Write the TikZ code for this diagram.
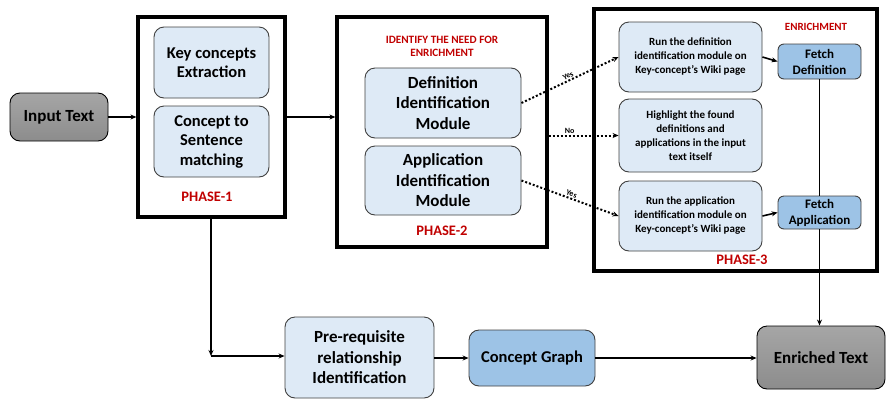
\documentclass[tikz,border=0pt]{standalone}
\usepackage{fontspec}
\setmainfont{Carlito}
\usetikzlibrary{arrows.meta,calc}
\definecolor{lightbox}{HTML}{DEEAF6}
\definecolor{midbox}{HTML}{9DC3E6}
\definecolor{boxline}{HTML}{404040}
\definecolor{phasered}{HTML}{C00000}
\tikzset{
  every node/.style={font=\bfseries},
  lbox/.style={draw=boxline, line width=0.9pt, fill=lightbox, rounded corners=10pt, align=center, inner sep=2pt},
  mbox/.style={draw=boxline, line width=0.9pt, fill=midbox, rounded corners=6pt, align=center, inner sep=2pt},
  gbox/.style={draw=black, line width=0.9pt, rounded corners=10pt, top color=gray!70, bottom color=gray!110!black, shading angle=0, align=center, inner sep=2pt},
  frame/.style={draw=black, line width=3.2pt},
  redlab/.style={text=phasered, align=center, inner sep=0pt},
  conn/.style={line width=1.6pt, -{Stealth[length=6pt,width=5pt]}},
  dconn/.style={line width=2pt, dash pattern=on 2pt off 2pt, -{Stealth[length=6pt,width=5pt]}},
  tiny/.style={font=\bfseries\fontsize{8}{9}\selectfont, inner sep=1pt},
  bigtxt/.style={font=\bfseries\fontsize{17}{20.5}\selectfont},
  medtxt/.style={font=\bfseries\fontsize{16.5}{19.5}\selectfont},
  smalltxt/.style={font=\bfseries\fontsize{11}{14}\selectfont},
  fetchtxt/.style={font=\bfseries\fontsize{13}{16}\selectfont}
}
\begin{document}
\begin{tikzpicture}[x=1pt,y=-1pt]
\useasboundingbox (0,0) rectangle (888,413);
% frames
\node[frame, minimum width=147pt, minimum height=200pt] (p1) at (211.5,117) {};
\node[frame, minimum width=210pt, minimum height=230pt] (p2) at (442,132) {};
\node[frame, minimum width=283pt, minimum height=262pt] (p3) at (735.5,140) {};
% input
\node[gbox, font=\bfseries\fontsize{17}{20}\selectfont, minimum width=98pt, minimum height=48pt] (input) at (59,117) {Input Text};
% phase 1
\node[lbox, medtxt, minimum width=115pt, minimum height=71pt] (key) at (211.5,62.5) {Key concepts\\Extraction};
\node[lbox, medtxt, minimum width=115pt, minimum height=71pt] (c2s) at (211.5,141.5) {Concept to\\Sentence\\matching};
\node[redlab, font=\bfseries\fontsize{14.5}{16}\selectfont] (ph1) at (207,197) {PHASE-1};
% phase 2
\node[redlab, font=\bfseries\fontsize{11.2}{13}\selectfont] (need) at (442,46) {IDENTIFY THE NEED FOR\\ENRICHMENT};
\node[lbox, bigtxt, minimum width=156pt, minimum height=70pt] (def) at (443,103) {Definition\\Identification\\Module};
\node[lbox, bigtxt, minimum width=156pt, minimum height=69pt] (app) at (443,180.5) {Application\\Identification\\Module};
\node[redlab, font=\bfseries\fontsize{14.5}{16}\selectfont] (ph2) at (442,231) {PHASE-2};
% phase 3
\node[redlab, font=\bfseries\fontsize{11}{12}\selectfont] (enr) at (816,27) {ENRICHMENT};
\node[lbox, smalltxt, minimum width=143pt, minimum height=70pt] (rundef) at (690.5,57) {Run the definition\\identification module on\\Key-concept’s Wiki page};
\node[lbox, smalltxt, minimum width=143pt, minimum height=73pt] (high) at (690.5,135.5) {Highlight the found\\definitions and\\applications in the input\\text itself};
\node[lbox, smalltxt, minimum width=143pt, minimum height=70pt] (runapp) at (690.5,216) {Run the application\\identification module on\\Key-concept’s Wiki page};
\node[mbox, fetchtxt, minimum width=83pt, minimum height=35pt] (fdef) at (819.5,61.5) {Fetch\\Definition};
\node[mbox, fetchtxt, minimum width=83pt, minimum height=33pt] (fapp) at (819.5,212.5) {Fetch\\Application};
\node[redlab, font=\bfseries\fontsize{14.5}{16}\selectfont] (ph3) at (742,260) {PHASE-3};
% bottom row
\node[lbox, bigtxt, minimum width=149pt, minimum height=81pt] (pre) at (359.5,357.5) {Pre-requisite\\relationship\\Identification};
\node[mbox, medtxt, rounded corners=10pt, minimum width=126pt, minimum height=56pt] (cg) at (532,358) {Concept Graph};
\node[gbox, font=\bfseries\fontsize{17}{20}\selectfont, minimum width=128pt, minimum height=63pt] (out) at (821,357.5) {Enriched Text};
\coordinate (corner) at (211,356);
% connectors
\draw[conn] (input.east) -- (p1.west |- input.east);
\draw[conn] (p1.east |- input.east) -- (p2.west |- input.east);
\draw[dconn] (def.east) -- node[tiny, sloped, above] {Yes} (rundef.west);
\draw[dconn] (p2.east |- high.west) -- node[tiny, above, pos=0.3] {No} (high.west);
\draw[dconn] (app.east) -- node[tiny, sloped, above] {Yes} (runapp.west);
\draw[conn] (rundef.east) -- (fdef.west);
\draw[conn] (runapp.east) -- (fapp.west);
\draw[line width=1.6pt] (fdef.south) -- (fapp.north);
\draw[conn] (fapp.south) -- (out.north -| fapp.south);
\draw[conn] (p1.south -| corner) -- (corner);
\draw[conn] (corner) -- (pre.west |- corner);
\draw[conn] (pre.east |- cg.west) -- (cg.west);
\draw[conn] (cg.east) -- (out.west |- cg.east);
\end{tikzpicture}
\end{document}
